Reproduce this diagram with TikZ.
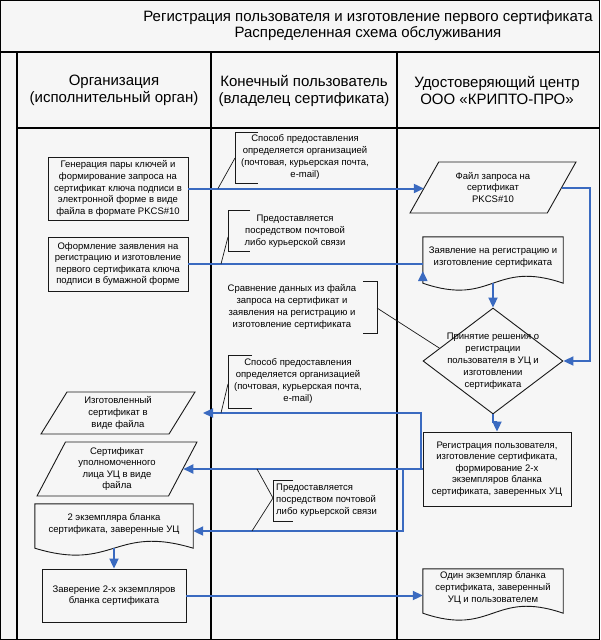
\documentclass[tikz,border=0pt]{standalone}
\usepackage{fontspec}
\setmainfont{Liberation Sans}
\usetikzlibrary{shapes.geometric,arrows.meta,calc}
\definecolor{bg}{RGB}{246,246,246}
\definecolor{flow}{RGB}{58,106,192}
\definecolor{ln}{RGB}{25,25,25}
% #1 node name, #2 extra depth of the sides below the text box
\newcommand\DocShape[2]{\draw[draw=ln,line width=0.9pt] (#1.north west) -- (#1.north east) -- ($(#1.south east)+(0,#2)$) .. controls ($(#1.south)+(0,#2-24)$) and ($(#1.south)+(0,#2+24)$) .. ($(#1.south west)+(0,#2)$) -- cycle;}
\begin{document}
\begin{tikzpicture}[x=1pt,y=-1pt,
  txt/.style={font=\fontsize{9.5}{11.6}\selectfont, align=center, inner sep=0pt, text=black},
  procbox/.style={txt, draw=ln, line width=0.9pt, rectangle},
  databox/.style={txt, draw=ln, line width=0.9pt, trapezium, trapezium stretches=true},
  docnode/.style={txt, rectangle},
  notetext/.style={font=\fontsize{9.5}{12}\selectfont, inner sep=0pt, text=black},
  flowarrow/.style={draw=flow, line width=2pt, -{Triangle[length=10pt,width=9pt]}},
  note/.style={draw=ln, line width=0.7pt},
  lane/.style={draw=black, line width=1.2pt},
  hdr/.style={font=\fontsize{15}{17}\selectfont, align=center, inner sep=0pt},
]
\useasboundingbox (0,0) rectangle (600,640);
\fill[bg] (0,0) rectangle (600,640);
% frame and lanes
\draw[lane] (0.6,0.6) rectangle (599.4,639.4);
\draw[lane] (0,52) -- (600,52);
\draw[lane] (17,128) -- (600,128);
\draw[lane] (17,52) -- (17,640);
\draw[lane] (211,52) -- (211,640);
\draw[lane] (397,52) -- (397,640);

% title and headers
\node[hdr, font=\fontsize{15}{15.5}\selectfont] (title) at (368,25.5) {Регистрация пользователя и изготовление первого сертификата\\Распределенная схема обслуживания};
\node[hdr] (h1) at (114,90.5) {Организация\\(исполнительный орган)};
\node[hdr] (h2) at (304,90.5) {Конечный пользователь\\(владелец сертификата)};
\node[hdr] (h3) at (497,90.5) {Удостоверяющий центр\\ООО «КРИПТО-ПРО»};

% organisation lane
\node[procbox, minimum width=140pt, minimum height=63pt] (gen) at (118,188.5) {Генерация пары ключей и\\формирование запроса на\\сертификат ключа подписи в\\электронной форме в виде\\файла в формате PKCS\#10};
\node[procbox, minimum width=140pt, minimum height=54pt] (app) at (118,264) {Оформление заявления на\\регистрацию и изготовление\\первого сертификата ключа\\подписи в бумажной форме};
\node[databox, trapezium left angle=62, trapezium right angle=118, minimum width=154pt, minimum height=42pt] (cert) at (118,413) {Изготовленный\\сертификат в\\виде файла};
\node[databox, trapezium left angle=64, trapezium right angle=116, minimum width=160pt, minimum height=54pt] (ucfile) at (117,469) {Сертификат\\уполномоченного\\лица УЦ в виде\\файла};
\node[docnode, minimum width=158pt, minimum height=40pt] (two) at (114,524) {2 экземпляра бланка\\сертификата, заверенные УЦ};
\DocShape{two}{4}
\node[procbox, minimum width=144pt, minimum height=53pt] (zav) at (114,595.5) {Заверение 2-х экземпляров\\бланка сертификата};

% CA lane
\node[databox, trapezium left angle=57, trapezium right angle=123, minimum width=166pt, minimum height=51pt] (file) at (493,187.5) {Файл запроса на\\сертификат\\PKCS\#10};
\node[docnode, minimum width=140pt, minimum height=40pt] (req) at (493,257) {Заявление на регистрацию и\\изготовление сертификата};
\DocShape{req}{6}
\node[diamond, draw=ln, line width=0.9pt, aspect=1.32, minimum width=140pt, minimum height=106pt, inner sep=0pt, font=\fontsize{9.5}{12}\selectfont] (dec) at (493,361) {\smash{\makebox[0pt]{\raisebox{-2.4pt}{\begin{tabular}{@{}c@{}}Принятие решения о\\регистрации\\пользователя в УЦ и\\изготовлении\\сертификата\end{tabular}}}}};
\node[procbox, minimum width=148pt, minimum height=74pt] (reg) at (497,469) {Регистрация пользователя,\\изготовление сертификата,\\формирование 2-х\\экземпляров бланка\\сертификата, заверенных УЦ};
\node[docnode, minimum width=140pt, minimum height=38pt] (one) at (493,588) {Один экземпляр бланка\\сертификата, заверенный\\УЦ и пользователем};
\DocShape{one}{6}

% flows
\draw[flowarrow] (gen.east) -- (gen.east -| file.left side);
\draw[flowarrow] (app.east) -- (app.east -| req.west) ++(0,7) coordinate (reqin);
\coordinate (fr) at (590,361);
\draw[flowarrow] (file.right side) -| (fr) -- (dec.east);
\draw[flowarrow] ($(req.south)+(0,6)$) -- (dec.north);
\draw[flowarrow] (dec.south) -- ++(0,8) -| (reg.north);
\coordinate (certin) at (203,413);
\draw[flowarrow] (reg.west) -- ++(-2,0) |- (certin);
\draw[flowarrow] (reg.west) -- (ucfile.right side);
\coordinate (tw) at (403,531);
\draw[flowarrow] (reg.west) -| (tw) -- (tw -| two.east);
\draw[flowarrow] ($(two.south)+(0,4)$) -- (zav.north);
\draw[flowarrow] (zav.east) -- (zav.east -| one.west);

% annotations
\node[notetext, align=center] (n1) at (305,157) {Способ предоставления\\определяется организацией\\(почтовая, курьерская почта,\\e-mail)};
\draw[note] (258,132) -- (235,132) -- (235,183) -- (258,183);
\coordinate (n1a) at (235,158);
\coordinate (n1b) at (218,188.5);
\draw[note] (n1a) -- (n1b);

\node[notetext, align=center] (n2) at (295,231) {Предоставляется\\посредством почтовой\\либо курьерской связи};
\draw[note] (250,210) -- (228,210) -- (228,251) -- (250,251);
\coordinate (n2a) at (228,237);
\coordinate (n2b) at (221,264);
\draw[note] (n2a) -- (n2b);

\node[notetext, align=center] (n3) at (292,306.5) {Сравнение данных из файла\\запроса на сертификат и\\заявления на регистрацию и\\изготовление сертификата};
\draw[note] (363,281) -- (377,281) -- (377,333) -- (363,333);
\coordinate (n3a) at (377,308);
\coordinate (n3b) at ($(dec.west)!0.24!(dec.north)$);
\draw[note] (n3a) -- (n3b);

\node[notetext, align=center] (n4) at (298,381) {Способ предоставления\\определяется организацией\\(почтовая, курьерская почта,\\e-mail)};
\draw[note] (252,355) -- (228,355) -- (228,408) -- (252,408);
\coordinate (n4a) at (228,384);
\coordinate (n4b) at (221,413);
\draw[note] (n4a) -- (n4b);

\node[notetext, align=left, anchor=west] (n5) at (276,500) {Предоставляется\\посредством почтовой\\либо курьерской связи};
\draw[note] (293,480) -- (273,480) -- (273,521) -- (293,521);
\coordinate (n5a) at (273,498);
\coordinate (n5b) at (257,469);
\coordinate (n5c) at (252,531);
\draw[note] (n5b) -- (n5a) -- (n5c);
\end{tikzpicture}
\end{document}
